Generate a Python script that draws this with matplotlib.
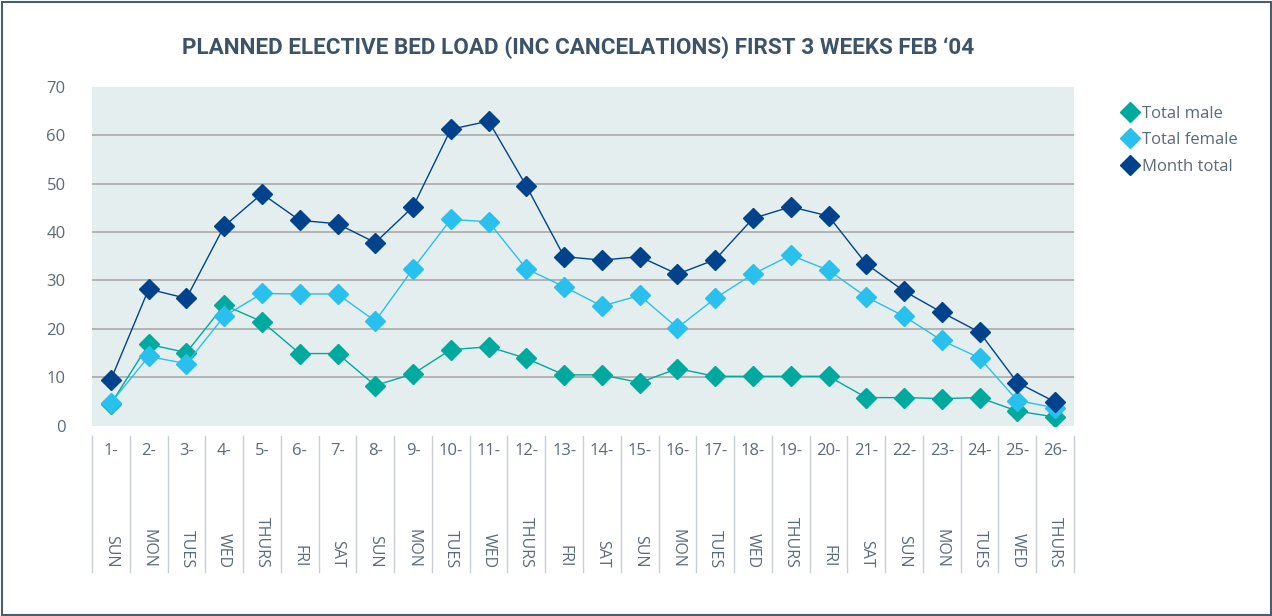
import matplotlib
matplotlib.use("Agg")
import matplotlib.pyplot as plt
from matplotlib.patches import Rectangle
from matplotlib.lines import Line2D

day_numbers = [f"{i}-" for i in range(1, 27)]
day_names = ["SUN", "MON", "TUES", "WED", "THURS", "FRI", "SAT",
             "SUN", "MON", "TUES", "WED", "THURS", "FRI", "SAT",
             "SUN", "MON", "TUES", "WED", "THURS", "FRI", "SAT",
             "SUN", "MON", "TUES", "WED", "THURS"]

total_male = [4.5, 16.8, 15.1, 24.9, 21.5, 14.9, 14.9, 8.3, 10.7, 15.7, 16.3, 13.9, 10.5,
              10.5, 8.9, 11.8, 10.2, 10.2, 10.2, 10.2, 5.8, 5.8, 5.6, 5.8, 3.0, 1.8]
total_female = [4.7, 14.3, 12.8, 22.6, 27.3, 27.2, 27.2, 21.6, 32.4, 42.6, 42.1, 32.4, 28.7,
                24.7, 26.9, 20.2, 26.3, 31.3, 35.2, 32.1, 26.6, 22.6, 17.6, 14.0, 5.2, 3.7]
month_total = [9.5, 28.2, 26.3, 41.2, 47.9, 42.4, 41.7, 37.8, 45.2, 61.2, 62.9, 49.5, 34.9,
               34.2, 34.9, 31.3, 34.3, 42.8, 45.2, 43.3, 33.4, 27.8, 23.4, 19.3, 8.9, 4.9]

series = [("Total male", total_male, "#00A99D"),
          ("Total female", total_female, "#29C0EE"),
          ("Month total", month_total, "#00438C")]

W, H = 1272, 616
fig = plt.figure(figsize=(W / 100, H / 100), dpi=100)
fig.patch.set_facecolor("white")
fig.patches.append(Rectangle((1.5 / W, 1.5 / H), (W - 3) / W, (H - 3) / H,
                             transform=fig.transFigure, fill=False,
                             edgecolor="#4A5D6E", linewidth=1.5))

left, right, top, bottom = 92, 1074, 86.7, 425.7
ax = fig.add_axes([left / W, 1 - bottom / H, (right - left) / W, (bottom - top) / H])
ax.set_facecolor("#E5EEEF")
for s in ax.spines.values():
    s.set_visible(False)

x = list(range(len(day_numbers)))
for name, vals, col in series:
    ax.plot(x, vals, color=col, lw=1.0, marker="D", ms=10, mec=col, mfc=col,
            label=name, zorder=3)

ax.set_xlim(-0.5, len(day_numbers) - 0.5)
ax.set_ylim(0, 70)
ax.set_yticks(range(0, 80, 10))
for yv in range(10, 70, 10):
    ax.axhline(yv, color="#AAAAAA", lw=1.2, zorder=1)
ax.tick_params(axis="y", length=0, pad=19, labelsize=12, labelcolor="#5A6B7A")
for lab in ax.get_yticklabels():
    lab.set_fontfamily("Open Sans")
ax.set_xticks([])

trans = ax.get_xaxis_transform()
axh = bottom - top
for i in x:
    ax.text(i, -25 / axh, day_numbers[i], transform=trans, ha="center", va="center",
            fontsize=12, color="#5A6B7A", family="Open Sans")
    ax.text(i, -142 / axh, day_names[i], transform=trans, ha="center", va="bottom",
            rotation=270, fontsize=11.5, color="#5A6B7A", family="Open Sans")
for k in range(len(day_numbers) + 1):
    ax.add_line(Line2D([k - 0.5, k - 0.5], [-10 / axh, -146 / axh], transform=trans,
                       color="#C8CFD3", lw=1.0, clip_on=False))

fig.text(578 / W, 1 - 48 / H,
         "PLANNED ELECTIVE BED LOAD (INC CANCELATIONS) FIRST 3 WEEKS FEB \u201804",
         ha="center", va="center", fontsize=16.2, fontweight="bold",
         family=["Roboto", "DejaVu Sans"], color="#3D5468")

leg = fig.legend(loc="upper left", bbox_to_anchor=(1107 / W, 1 - 91 / H), frameon=False,
                 handlelength=0.9, handletextpad=0.3, labelspacing=0.62,
                 prop={"family": "Open Sans", "size": 12})
for t in leg.get_texts():
    t.set_color("#5A6B7A")
for h in leg.legend_handles:
    h.set_linestyle("none")

fig.savefig("out.png", dpi=100)
